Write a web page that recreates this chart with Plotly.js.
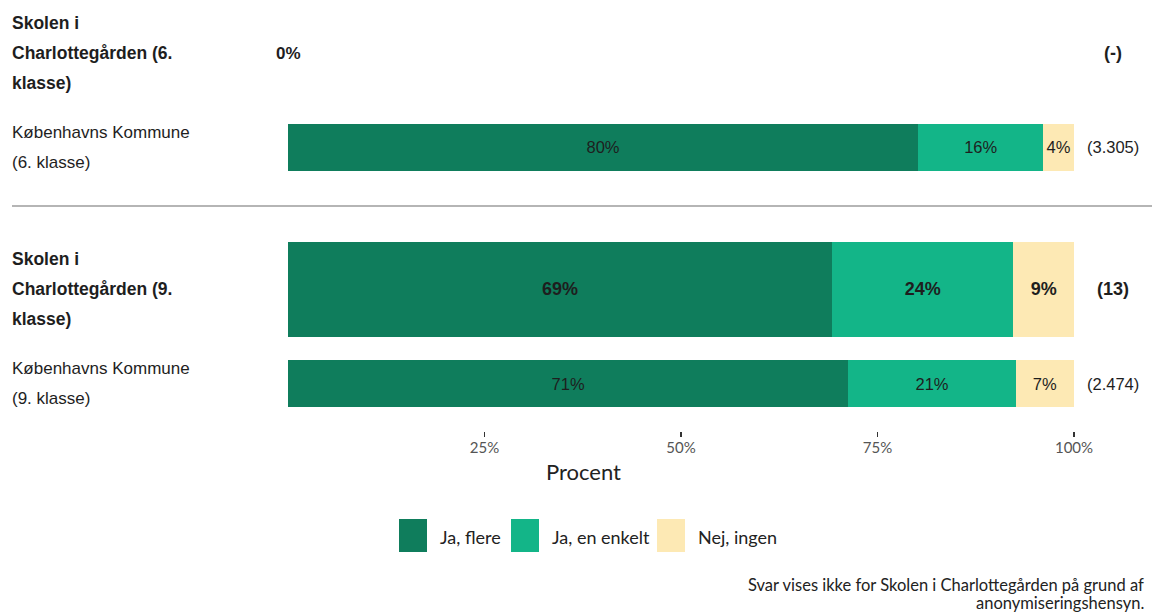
<!DOCTYPE html>
<html><head><meta charset="utf-8">
<script src="https://cdn.plot.ly/plotly-3.0.1.min.js"></script>
<style>body{margin:0;background:#fff}#chart{width:1156px;height:615px}</style>
</head><body><div id="chart"></div>
<script>
// ---- data ----
const rowLabels = [
  "Skolen i\nCharlottegården (6.\nklasse)",
  "Københavns Kommune\n(6. klasse)",
  "Skolen i\nCharlottegården (9.\nklasse)",
  "Københavns Kommune\n(9. klasse)"
];
const rowIsSchool = [true, false, true, false];
const rowGroup = [0, 0, 1, 1];
const seriesNames = ["Ja, flere", "Ja, en enkelt", "Nej, ingen"];
const jaFlere  = [0, 80.2, 69.2, 71.3];
const jaEnkelt = [0, 15.9, 23.1, 21.3];
const nejIngen = [0, 3.9, 7.7, 7.4];
const jaFlereText  = ["", "80%", "69%", "71%"];
const jaEnkeltText = ["", "16%", "24%", "21%"];
const nejIngenText = ["", "4%", "9%", "7%"];
const respondents = ["(-)", "(3.305)", "(13)", "(2.474)"];
const hiddenRowText = ["0%", "", "", ""];
const xTickVals = [25, 50, 75, 100];
const xTickText = ["25%", "50%", "75%", "100%"];
const xTitle = "Procent";
const footnoteLines = ["Svar vises ikke for Skolen i Charlottegården på grund af", "anonymiseringshensyn."];

// ---- styles ----
const colors = ["#0f7d5c", "#13b588", "#fde9b4"];
const W = 1156, H = 615;
const M = {l: 288, r: 82, t: 6, b: 184};
const PW = W - M.l - M.r, PH = H - M.t - M.b;
const px = x => (x - M.l) / PW;
const py = y => (H - M.b - y) / PH;
const labelFont = "Liberation Sans, Arial, sans-serif";
const axisFont = "Lato, Roboto, sans-serif";
const bold = (t, b) => (b && t) ? "<b>" + t + "</b>" : t;

const seriesVals = [jaFlere, jaEnkelt, nejIngen];
const seriesText = [jaFlereText, jaEnkeltText, nejIngenText];
const axisForGroup = ["y2", "y"];
const traces = [];
seriesNames.forEach((name, s) => {
  [0, 1].forEach(g => {
    const idx = rowLabels.map((_, i) => i).filter(i => rowGroup[i] === g);
    traces.push({
      type: "bar", orientation: "h", name: name, showlegend: false,
      x: idx.map(i => seriesVals[s][i]),
      y: idx.map(i => rowLabels[i]),
      width: idx.map(i => rowIsSchool[i] ? 1.0 : 0.5),
      text: idx.map(i => bold(seriesText[s][i], rowIsSchool[i])),
      textposition: "inside", insidetextanchor: "middle", constraintext: "none",
      textfont: {family: labelFont, size: idx.map(i => rowIsSchool[i] ? 18 : 16.5), color: "#1e1e1e"},
      marker: {color: colors[s], line: {width: 0}},
      yaxis: axisForGroup[g], xaxis: "x", hoverinfo: "skip"
    });
  });
});

const annotations = [];
rowLabels.forEach((lab, i) => {
  const lines = lab.split("\n");
  const yref = axisForGroup[rowGroup[i]];
  lines.forEach((ln, k) => {
    annotations.push({
      xref: "paper", x: px(10), xanchor: "left",
      yref: yref, y: lab, yanchor: "middle",
      yshift: -(k - (lines.length - 1) / 2) * 30,
      text: bold(ln, rowIsSchool[i]),
      showarrow: false, font: {family: labelFont, size: rowIsSchool[i] ? 17.5 : 17, color: "#1e1e1e"}
    });
  });
  annotations.push({
    xref: "paper", x: px(1113), xanchor: "center", yref: yref, y: lab, yanchor: "middle",
    text: bold(respondents[i], rowIsSchool[i]),
    showarrow: false, font: {family: labelFont, size: rowIsSchool[i] ? 18 : 16.5, color: "#1e1e1e"}
  });
  if (hiddenRowText[i]) {
    annotations.push({
      xref: "x", x: 0, xanchor: "center", yref: yref, y: lab, yanchor: "middle",
      text: bold(hiddenRowText[i], true), showarrow: false,
      font: {family: labelFont, size: 17, color: "#1e1e1e"}
    });
  }
});
annotations.push({
  xref: "paper", x: px(583), xanchor: "center", yref: "paper", y: py(471), yanchor: "middle",
  text: xTitle, showarrow: false, font: {family: axisFont, size: 22, color: "#222"}
});
// legend (drawn manually for large swatches)
const legendBoxX = [399, 511, 657];
const shapes = [{
  type: "line", xref: "paper", yref: "paper", x0: px(12), x1: px(1152), y0: py(206), y1: py(206),
  line: {color: "#b5b5b5", width: 2}
}];
seriesNames.forEach((name, s) => {
  shapes.push({type: "rect", xref: "paper", yref: "paper",
    x0: px(legendBoxX[s]), x1: px(legendBoxX[s] + 28), y0: py(552), y1: py(519),
    fillcolor: colors[s], line: {width: 0}});
  annotations.push({xref: "paper", x: px(legendBoxX[s] + 39), xanchor: "left",
    yref: "paper", y: py(537), yanchor: "middle", text: name, showarrow: false,
    font: {family: axisFont, size: 18, color: "#222"}});
});
footnoteLines.forEach((ln, k) => {
  annotations.push({xref: "paper", x: px(1146), xanchor: "right", yref: "paper", y: py(585 + k * 18),
    yanchor: "middle", text: ln, showarrow: false, font: {family: axisFont, size: 16.5, color: "#222"}});
});

const layout = {
  width: W, height: H, margin: M, paper_bgcolor: "#fff", plot_bgcolor: "#fff",
  barmode: "stack", bargap: 0, showlegend: false,
  xaxis: {range: [0, 100], tickvals: xTickVals, ticktext: xTickText, ticks: "outside", ticklen: 5,
    tickwidth: 1.5, tickcolor: "#333", showgrid: false, zeroline: false, showline: false,
    ticklabelstandoff: -2,
    anchor: "y", tickfont: {family: axisFont, size: 15, color: "#555"}, fixedrange: true},
  yaxis: {domain: [0, py(242)], type: "category", categoryorder: "array",
    categoryarray: [rowLabels[2], rowLabels[3]], range: [1.5, -0.5],
    showticklabels: false, showgrid: false, zeroline: false, showline: false, ticks: ""},
  yaxis2: {domain: [py(194), 1], type: "category", categoryorder: "array",
    categoryarray: [rowLabels[0], rowLabels[1]], range: [1.5, -0.5], anchor: "x",
    showticklabels: false, showgrid: false, zeroline: false, showline: false, ticks: ""},
  annotations: annotations, shapes: shapes
};
Plotly.newPlot("chart", traces, layout, {displayModeBar: false, staticPlot: true});
</script>
</body></html>
